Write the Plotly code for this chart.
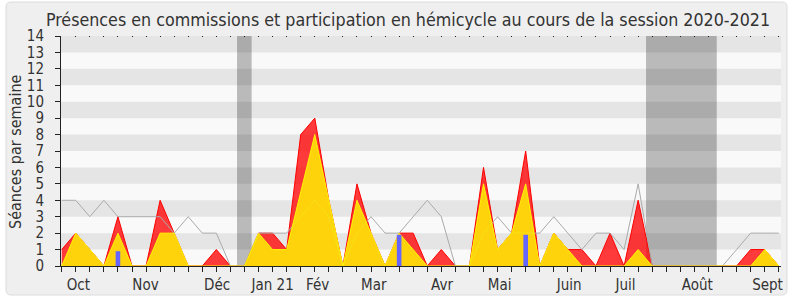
import plotly.graph_objects as go

# ---- data (weekly, session 2020-2021) ----
weeks = list(range(52))
total_presence = [1, 2, 1, 0, 3, 0, 0, 4, 2, 0, 0, 1, 0, 0, 2, 2, 1, 8, 9, 4,
                  0, 5, 2, 0, 2, 2, 0, 1, 0, 0, 6, 1, 2, 7, 0, 2, 1, 1, 0, 2,
                  0, 4, 0, 0, 0, 0, 0, 0, 0, 1, 1, 0]
commission_presence = [0, 2, 1, 0, 2, 0, 0, 2, 2, 0, 0, 0, 0, 0, 2, 1, 1, 4.5, 8, 4,
                       0, 4, 2, 0, 2, 1, 0, 0, 0, 0, 5, 1, 2, 5, 0, 2, 1, 0, 0, 0,
                       0, 1, 0, 0, 0, 0, 0, 0, 0, 0, 1, 0]
median_line = [4, 4, 3, 4, 3, 3, 3, 3, 2, 3, 2, 2, 0, 0, 2, 2, 2, 3, 4, 3,
               0, 2, 3, 2, 2, 3, 4, 3, 0, 0, 2, 3, 2, 2, 2, 3, 2, 1, 2, 2,
               1, 5, 0, 0, 0, 0, 0, 0, 1, 2, 2, 2]
question_weeks = [4, 24, 33]
question_values = [0.9, 1.9, 1.9]

month_labels = ["Oct", "Nov", "Déc", "Jan 21", "Fév", "Mar", "Avr", "Mai",
                "Juin", "Juil", "Août", "Sept"]
month_pos = [1.18, 5.96, 11.05, 15.0, 18.2, 22.2, 27.05, 31.15, 36.1, 40.1, 45.2, 50.2]

vacation_start = [12.47, 41.56]
vacation_end = [13.51, 46.59]

y_max = 14
title = "Présences en commissions et participation en hémicycle au cours de la session 2020-2021"

FONT = "DejaVu Sans Condensed, DejaVu Sans, sans-serif"
TXT = "#333333"
X_RANGE = [-0.05, 51.16]

# ---- layout geometry helpers (paper coords) ----
L, R, T, B = 61, 9, 36, 34
W, H = 790, 300
pw, ph = W - L - R, H - T - B


def px(xp):
    return (xp - L) / pw


def py(yp):
    return (H - B - yp) / ph


shapes = []
# rounded outer frame
x0, x1, y0, y1, r = px(6), px(787), py(295), py(2), 5
rx, ry = r / pw, r / ph
path = (f"M {x0+rx},{y1} L {x1-rx},{y1} Q {x1},{y1} {x1},{y1-ry} "
        f"L {x1},{y0+ry} Q {x1},{y0} {x1-rx},{y0} L {x0+rx},{y0} "
        f"Q {x0},{y0} {x0},{y0+ry} L {x0},{y1-ry} Q {x0},{y1} {x0+rx},{y1} Z")
shapes.append(dict(type="path", path=path, xref="paper", yref="paper",
                   fillcolor="#efefef", line=dict(color="#dcdcdc", width=1), layer="below"))
# plot background
shapes.append(dict(type="rect", xref="paper", yref="paper", x0=0, x1=1, y0=0, y1=1,
                   fillcolor="#f9f9f9", line=dict(width=0), layer="below"))
# stripes
for k in range(1, y_max, 2):
    shapes.append(dict(type="rect", xref="paper", yref="y", x0=0, x1=1, y0=k, y1=k + 1,
                       fillcolor="#e5e5e5", line=dict(width=0), layer="below"))
# vacation bands
for s, e in zip(vacation_start, vacation_end):
    shapes.append(dict(type="rect", xref="x", yref="paper", x0=s, x1=e, y0=0, y1=1,
                       fillcolor="rgba(0,0,0,0.25)", line=dict(width=0), layer="below"))

fig = go.Figure()
fig.add_trace(go.Scatter(x=weeks, y=total_presence, mode="lines", fill="tozeroy",
                         fillcolor="rgba(255,0,0,0.77)",
                         line=dict(color="rgb(255,0,0)", width=1), hoverinfo="skip"))
fig.add_trace(go.Scatter(x=weeks, y=median_line, mode="lines",
                         line=dict(color="rgb(170,170,170)", width=1), hoverinfo="skip"))
fig.add_trace(go.Scatter(x=weeks, y=commission_presence, mode="lines", fill="tozeroy",
                         fillcolor="rgba(255,228,8,0.9)",
                         line=dict(color="rgb(255,245,0)", width=1), hoverinfo="skip"))
# bars on the overlaying axis so they are drawn above the filled areas
fig.add_trace(go.Bar(x=question_weeks, y=question_values, width=0.33, xaxis="x2",
                     marker=dict(color="rgb(102,102,255)", line=dict(width=0)), hoverinfo="skip"))

fig.update_layout(
    width=W, height=H,
    margin=dict(l=L, r=R, t=T, b=B, pad=0),
    paper_bgcolor="white",
    plot_bgcolor="#f9f9f9",
    showlegend=False,
    shapes=shapes,
    font=dict(family=FONT, color=TXT, size=15),
    title=dict(text=title, x=408 / W, xref="container", xanchor="center",
               y=1 - 20 / H, yref="container", yanchor="middle",
               font=dict(family=FONT, size=17.7, color=TXT)),
    xaxis=dict(range=X_RANGE, tickvals=month_pos, ticktext=month_labels,
               ticks="outside", ticklen=5, tickcolor="rgba(0,0,0,0)",
               showline=True, linecolor="#222222", linewidth=1,
               showgrid=False, zeroline=False, automargin=False,
               tickfont=dict(family=FONT, size=15, color=TXT),
               minor=dict(tickvals=weeks, ticks="outside", ticklen=5,
                          tickcolor="#222222", showgrid=False)),
    xaxis2=dict(range=X_RANGE, overlaying="x", side="top", anchor="y",
                tickvals=weeks, ticks="inside", ticklen=1, tickcolor="#222222",
                showticklabels=False, showgrid=False, zeroline=False, showline=False,
                automargin=False),
    yaxis=dict(range=[0, y_max], tickvals=list(range(0, y_max + 1)),
               ticks="outside", ticklen=5, tickcolor="#222222",
               showline=True, linecolor="#222222", linewidth=1,
               showgrid=False, zeroline=False, ticklabelstandoff=8, automargin=False,
               tickfont=dict(family=FONT, size=15, color=TXT)),
    annotations=[dict(text="Séances par semaine", textangle=-90, xref="paper", yref="paper",
                      x=px(15), y=py(152), xanchor="center", yanchor="middle",
                      showarrow=False, font=dict(family=FONT, size=16, color=TXT))],
)

fig.write_html("out.html")
